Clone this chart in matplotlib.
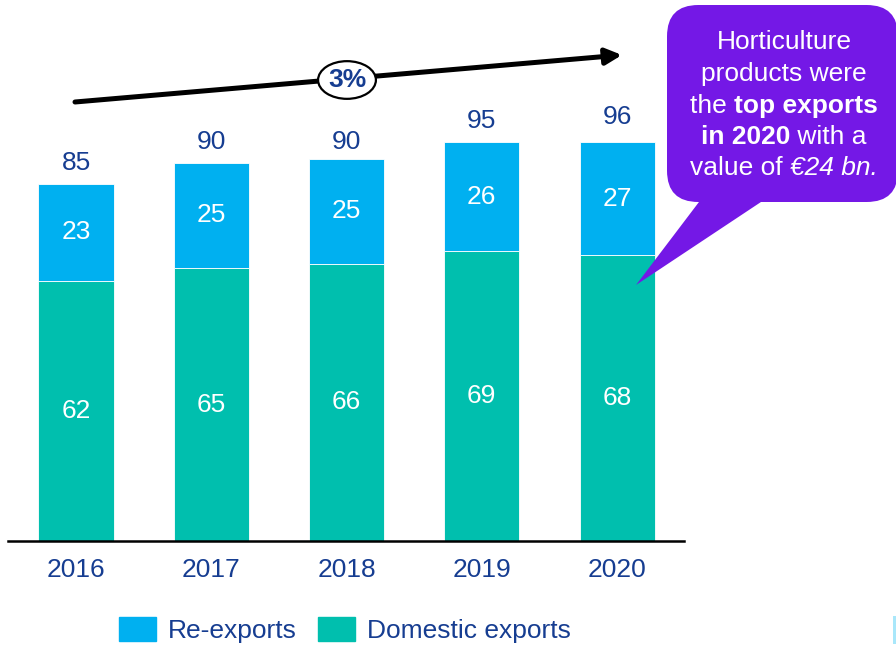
import matplotlib
matplotlib.use("Agg")
import matplotlib.pyplot as plt
from matplotlib.patches import Patch, FancyBboxPatch, FancyArrowPatch, Polygon, Rectangle
import numpy as np

plt.rcParams['font.family'] = ['Liberation Sans', 'DejaVu Sans']

years = ["2016", "2017", "2018", "2019", "2020"]
domestic = [62, 65, 66, 69, 68]
reexports = [23, 25, 25, 26, 27]
totals = [85, 90, 90, 95, 96]
growth_label = "3%"

c_domestic = "#00BFAE"
c_reexport = "#00B0F0"
c_text = "#163D91"
c_bubble = "#7418E6"
fs = 19

W, H = 896, 646
fig = plt.figure(figsize=(W / 100, H / 100), dpi=100)


def px(x, y):
  # pixel (from top-left) -> figure fraction
  return x / W, 1 - y / H


ax = fig.add_axes([8 / W, 105 / H, 676 / W, 541 / H])
x = np.arange(len(years))
bw = 0.555
ax.bar(x, domestic, bw, color=c_domestic, edgecolor="white", linewidth=0.6)
ax.bar(x, reexports, bw, bottom=domestic, color=c_reexport, edgecolor="white", linewidth=0.6)

for i in range(len(years)):
  ax.text(x[i], domestic[i] / 2, str(domestic[i]), ha="center", va="center",
          color="white", fontsize=fs)
  ax.text(x[i], domestic[i] + reexports[i] / 2, str(reexports[i]), ha="center",
          va="center", color="white", fontsize=fs)
  ax.annotate(str(totals[i]), (x[i], totals[i]), xytext=(0, 15),
              textcoords="offset points", ha="center", va="center",
              color=c_text, fontsize=fs)

ax.set_xlim(-0.503, 4.495)
ax.set_ylim(0, 541 / 4.2)
ax.set_xticks(x)
ax.set_xticklabels(years, color=c_text, fontsize=fs)
ax.tick_params(axis="x", length=0, pad=12)
ax.set_yticks([])
for s in ["top", "left", "right"]:
  ax.spines[s].set_visible(False)
ax.spines["bottom"].set_linewidth(1.8)
ax.patch.set_alpha(0)

# growth arrow
fig.add_artist(FancyArrowPatch(
  px(75, 102), px(622, 55), transform=fig.transFigure, arrowstyle="-|>",
  mutation_scale=24, lw=3.6, color="black", shrinkA=0, shrinkB=0))
fig.text(*px(347, 80), growth_label, ha="center", va="center", fontsize=fs,
         fontweight="bold", color=c_text,
         bbox=dict(boxstyle="ellipse,pad=0.05", fc="white", ec="black", lw=1.6))

# speech bubble
tail = Polygon([px(702, 198), px(767, 198), px(636, 285)], closed=True,
               transform=fig.transFigure, fc=c_bubble, ec="none")
fig.add_artist(tail)
x0, y0 = px(667, 202)
x1, y1 = px(898, 5)
box = FancyBboxPatch((x0, y0), x1 - x0, y1 - y0, transform=fig.transFigure,
                     boxstyle="round,pad=0,rounding_size=0.035",
                     mutation_aspect=W / H, fc=c_bubble, ec="none")
fig.add_artist(box)

bubble_lines = [
  [("Horticulture", "normal", "normal")],
  [("products were", "normal", "normal")],
  [("the ", "normal", "normal"), ("top exports", "bold", "normal")],
  [("in 2020", "bold", "normal"), (" with a", "normal", "normal")],
  [("value of ", "normal", "normal"), ("\u20ac24 bn.", "normal", "italic")],
]
line_y = [42, 74, 106, 137, 168]
renderer = fig.canvas.get_renderer()
for segs, ly in zip(bubble_lines, line_y):
  texts = []
  widths = []
  for s, wgt, sty in segs:
    t = fig.text(0, 0, s, fontsize=fs, fontweight=wgt, fontstyle=sty,
                 color="white", ha="left", va="center")
    bb = t.get_window_extent(renderer)
    texts.append(t)
    widths.append(bb.width)
  start = 784 - sum(widths) / 2
  for t, w in zip(texts, widths):
    t.set_position(px(start, ly))
    start += w

# legend
handles = [Patch(color=c_reexport, label="Re-exports"),
           Patch(color=c_domestic, label="Domestic exports")]
leg = fig.legend(handles=handles, loc="center", bbox_to_anchor=px(345, 630),
                 ncol=2, frameon=False, fontsize=fs, handlelength=1.4,
                 handleheight=1.0, handletextpad=0.45, columnspacing=0.8)
for t in leg.get_texts():
  t.set_color(c_text)

fig.add_artist(Rectangle(px(893, 644), 3 / W, 28 / H, transform=fig.transFigure,
                         fc="#A9E7FA", ec="none"))

fig.savefig("out.png", dpi=100)
